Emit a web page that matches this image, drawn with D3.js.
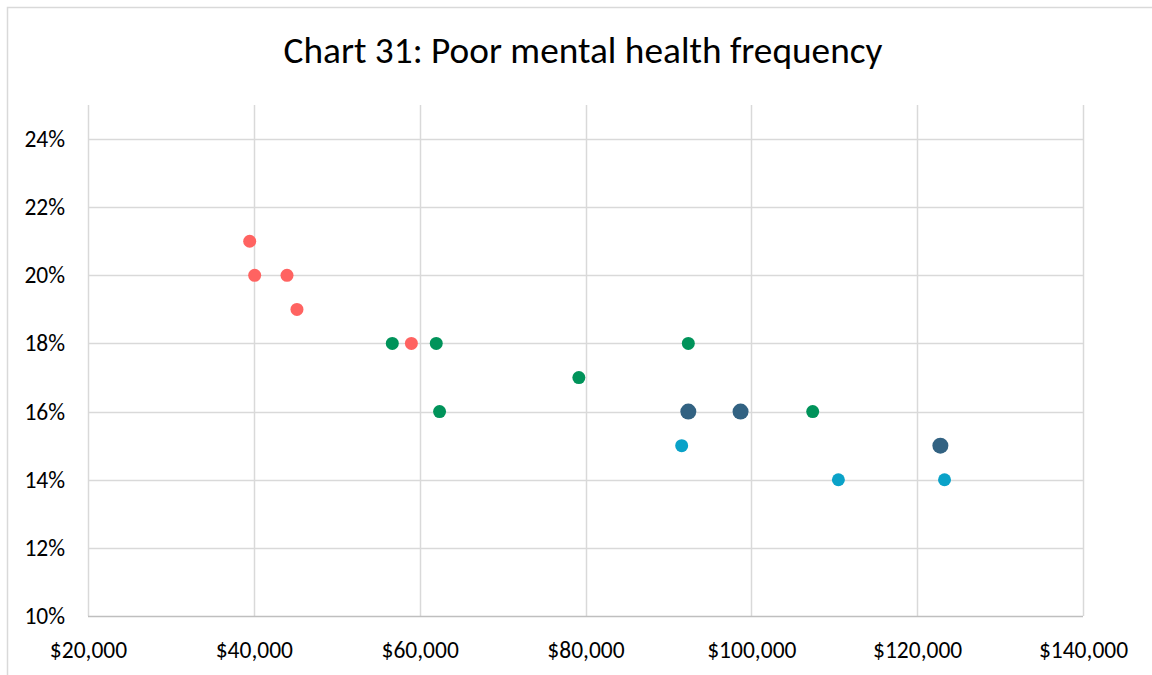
<!DOCTYPE html>
<html><head><meta charset="utf-8">
<script src="https://cdn.jsdelivr.net/npm/d3@7"></script>
<style>body{margin:0;background:#fff}svg{display:block}text{font-family:Carlito,Calibri,"Liberation Sans Narrow","Open Sans",sans-serif}</style>
</head><body>
<svg id="c" width="1152" height="675"></svg>
<script>
const title = "Chart 31: Poor mental health frequency";
const xTicks = [20000,40000,60000,80000,100000,120000,140000];
const yTicks = [0.10,0.12,0.14,0.16,0.18,0.20,0.22,0.24];
const seriesNames = ["red","green","darkblue","lightblue"];
const seriesColors = ["#FF6361","#00935A","#326282","#0AA2C8"];
const seriesRadius = [6.5,6.5,8,6.5];
const redX = [39500,40100,44000,45200,59000];
const redY = [0.21,0.20,0.20,0.19,0.18];
const greenX = [56700,62000,62400,79200,92400,107400];
const greenY = [0.18,0.18,0.16,0.17,0.18,0.16];
const darkBlueX = [92400,98700,122800];
const darkBlueY = [0.16,0.16,0.15];
const lightBlueX = [91600,110500,123300];
const lightBlueY = [0.15,0.14,0.14];

const FONT = "Carlito,Calibri,'Liberation Sans Narrow',sans-serif";
const svg = d3.select("#c");
svg.append("rect").attr("x",7.5).attr("y",7.5).attr("width",1160).attr("height",680)
  .attr("fill","#fff").attr("stroke","#D9D9D9").attr("stroke-width",1.5);

const x = d3.scaleLinear().domain([20000,140000]).range([88,1083]);
const y = d3.scaleLinear().domain([0.10,0.25]).range([616,105]);

const g = svg.append("g");
g.selectAll(".vg").data(xTicks).join("line")
  .attr("x1",d=>Math.round(x(d))+0.5).attr("x2",d=>Math.round(x(d))+0.5)
  .attr("y1",y(0.25)).attr("y2",y(0.10))
  .attr("stroke","#D9D9D9").attr("stroke-width",1.5);
g.selectAll(".hg").data(yTicks.slice(1)).join("line")
  .attr("x1",x(20000)).attr("x2",x(140000))
  .attr("y1",d=>Math.round(y(d))+0.5).attr("y2",d=>Math.round(y(d))+0.5)
  .attr("stroke","#D9D9D9").attr("stroke-width",1.5);
g.append("line").attr("x1",x(20000)).attr("x2",x(140000))
  .attr("y1",Math.round(y(0.10))+0.5).attr("y2",Math.round(y(0.10))+0.5)
  .attr("stroke","#BFBFBF").attr("stroke-width",1.5);

const xAxis = d3.axisBottom(x).tickValues(xTicks).tickSize(0).tickPadding(0)
  .tickFormat(d=>"$"+d3.format(",")(d));
const xa = svg.append("g").attr("transform",`translate(0,${y(0.10)+25})`).call(xAxis);
xa.select(".domain").remove();
xa.selectAll("text").attr("font-size",23.5).attr("fill","#000").attr("dy","0.71em")
  .style("font-family",FONT);

const yAxis = d3.axisLeft(y).tickValues(yTicks).tickSize(0).tickPadding(0)
  .tickFormat(d3.format(".0%"));
const ya = svg.append("g").attr("transform",`translate(65,0)`).call(yAxis);
ya.select(".domain").remove();
ya.selectAll("text").attr("font-size",23.5).attr("fill","#000")
  .style("font-family",FONT);

svg.append("text").attr("x",583).attr("y",63).attr("text-anchor","middle")
  .attr("font-size",37.3).attr("fill","#000").style("font-family",FONT).text(title);

const series = [
  {xs:redX, ys:redY},
  {xs:greenX, ys:greenY},
  {xs:darkBlueX, ys:darkBlueY},
  {xs:lightBlueX, ys:lightBlueY}
];
series.forEach((s,i)=>{
  svg.append("g").selectAll("circle").data(s.xs.map((v,j)=>[v,s.ys[j]])).join("circle")
    .attr("cx",d=>x(d[0])).attr("cy",d=>y(d[1])).attr("r",seriesRadius[i])
    .attr("fill",seriesColors[i]);
});
</script>
</body></html>
